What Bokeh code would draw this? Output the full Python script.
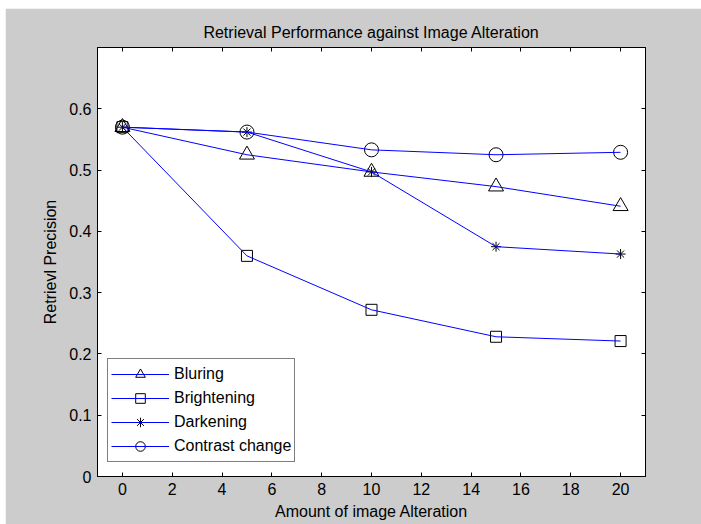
from bokeh.plotting import figure
from bokeh.embed import file_html
from bokeh.resources import INLINE
from bokeh.models import Range1d, LinearAxis, FixedTicker, Legend, LegendItem, Title
from bokeh.core.properties import value

# ---- data ----
x_vals = [0, 5, 10, 15, 20]
bluring = [0.570, 0.525, 0.497, 0.473, 0.441]
brightening = [0.570, 0.360, 0.272, 0.228, 0.221]
darkening = [0.570, 0.562, 0.497, 0.375, 0.363]
contrast = [0.570, 0.562, 0.533, 0.525, 0.529]
series_names = ["Bluring", "Brightening", "Darkening", "Contrast change"]
x_ticks = [0, 2, 4, 6, 8, 10, 12, 14, 16, 18, 20]
y_ticks = [0, 0.1, 0.2, 0.3, 0.4, 0.5, 0.6]

FONT = "Liberation Sans"
FS = "16px"
GRAY = "#cccccc"

p = figure(width=696, height=516, output_backend="svg", toolbar_location=None,
           x_range=Range1d(-1, 21), y_range=Range1d(0, 0.7),
           x_axis_location=None, y_axis_location=None,
           min_border_left=92, min_border_right=56, min_border_top=39, min_border_bottom=48)
p.margin = (8, 0, 0, 5)
p.background_fill_color = "white"
p.border_fill_color = GRAY
p.outline_line_color = "black"
p.outline_line_width = 1
p.xgrid.visible = False
p.ygrid.visible = False

def make_axis(ticks, labels=True, label=None):
    ax = LinearAxis(ticker=FixedTicker(ticks=ticks))
    ax.major_tick_in = 4
    ax.major_tick_out = 0
    ax.minor_tick_line_color = None
    ax.axis_line_color = "black"
    ax.major_tick_line_color = "black"
    ax.major_label_text_font = FONT
    ax.major_label_text_font_size = FS
    ax.major_label_text_color = "black"
    ax.major_label_standoff = 6
    if not labels:
        ax.major_label_overrides = {t: "" for t in ticks}
        ax.major_label_text_color = None
        ax.major_label_standoff = 0
    if label:
        ax.axis_label = label
        ax.axis_label_text_font = FONT
        ax.axis_label_text_font_size = FS
        ax.axis_label_text_font_style = "normal"
        ax.axis_label_text_color = "black"
    return ax

xax = make_axis(x_ticks, True, "Amount of image Alteration")
xax.axis_label_standoff = 5
yax = make_axis(y_ticks, True, "Retrievl Precision")
yax.axis_label_standoff = 7
p.add_layout(xax, "below")
p.add_layout(yax, "left")
p.add_layout(make_axis(x_ticks, False), "above")
p.add_layout(make_axis(y_ticks, False), "right")

p.title = Title(text="Retrieval Performance against Image Alteration", align="center",
                text_font=FONT, text_font_size=FS, text_font_style="normal",
                text_color="black", standoff=14)

series = [bluring, brightening, darkening, contrast]
markers = ["triangle", "square", "asterisk", "circle"]
sizes = [15, 11, 10, 14]
items = []
for name, ys, mk, sz in zip(series_names, series, markers, sizes):
    sc = p.scatter(x_vals, ys, marker=mk, size=sz, fill_color=None,
                   line_color="black", line_width=1)
    ln = p.line(x_vals, ys, line_color="#0000ff", line_width=1)
    items.append(LegendItem(label=name, renderers=[sc, ln]))

legend = Legend(items=items, location=(10, 14), orientation="vertical")
legend.label_text_font = FONT
legend.label_text_font_size = FS
legend.label_text_color = "black"
legend.glyph_width = 58
legend.glyph_height = 24
legend.label_height = 24
legend.spacing = 0
legend.label_standoff = 5
legend.padding = 3
legend.margin = 0
legend.border_line_color = "black"
legend.border_line_width = 1
legend.background_fill_color = "white"
legend.background_fill_alpha = 1
p.add_layout(legend, "center")

open("out.html", "w").write(file_html(p, INLINE))
